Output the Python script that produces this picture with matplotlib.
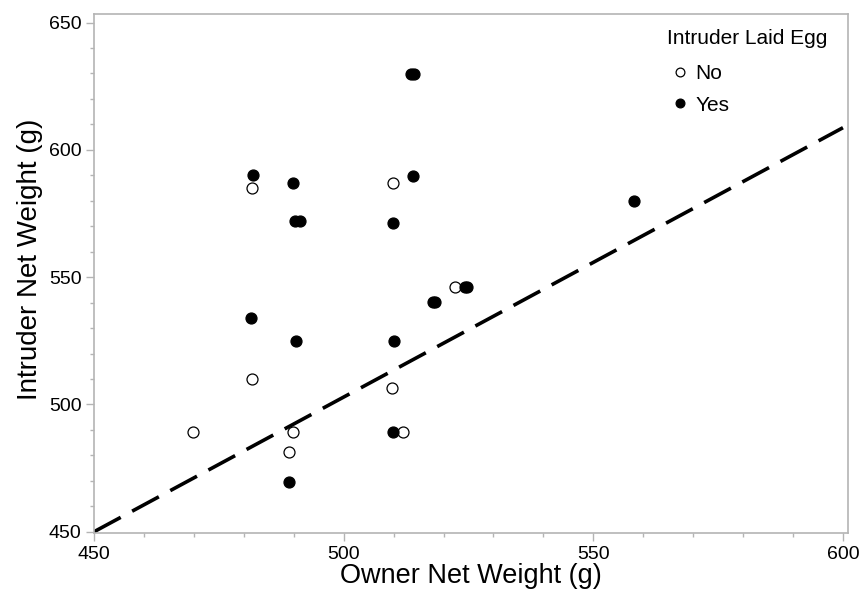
import matplotlib
matplotlib.use("Agg")
from matplotlib import pyplot as plt
from matplotlib.ticker import MultipleLocator

plt.rcParams['font.family'] = ['Liberation Sans', 'DejaVu Sans']

# intruder did not lay an egg
no_owner = [481.6, 509.9, 522.3, 481.6, 509.6, 469.8, 489.9, 489.1, 511.8]
no_intruder = [585.2, 586.9, 546.0, 509.9, 506.6, 489.2, 489.1, 481.2, 489.1]

# intruder laid an egg
yes_owner = [513.4, 514.0, 481.8, 489.9, 513.8, 490.3, 491.2, 509.8, 558.2,
             517.8, 518.3, 524.3, 524.8, 481.4, 490.5, 510.1, 509.8, 489.1]
yes_intruder = [629.6, 629.6, 590.2, 586.9, 589.9, 572.1, 572.1, 571.4, 580.0,
                540.1, 540.4, 546.0, 546.0, 534.0, 525.0, 525.0, 489.1, 469.4]

# reference line
line_x = [450, 600]
line_y = [450, 608.7]

grey = '#b4b4b4'

fig = plt.figure(figsize=(8.6, 5.94), dpi=100)
ax = fig.add_axes([0.1093, 0.1022, 0.8767, 0.874])

ax.plot(line_x, line_y, color='black', lw=2.6, dashes=(8.4, 3.6), zorder=2)

ax.plot(no_owner, no_intruder, 'o', ms=7.9, mfc='white', mec='black', mew=0.9,
        label='No', zorder=3)
ax.plot(yes_owner, yes_intruder, 'o', ms=7.9, mfc='black', mec='black', mew=0.9,
        label='Yes', zorder=4)

ax.set_xlim(450, 601)
ax.set_ylim(449.4, 653.3)

ax.xaxis.set_major_locator(MultipleLocator(50))
ax.xaxis.set_minor_locator(MultipleLocator(10))
ax.yaxis.set_major_locator(MultipleLocator(50))
ax.yaxis.set_minor_locator(MultipleLocator(10))

for s in ax.spines.values():
    s.set_color(grey)
    s.set_linewidth(1.2)

ax.tick_params(which='both', direction='out', color=grey, width=1, labelsize=14)
ax.tick_params(which='major', length=5.5, pad=3.5)
ax.tick_params(which='minor', length=3.2)

ax.set_xlabel('Owner Net Weight (g)', fontsize=19.5, labelpad=0)
ax.set_ylabel('Intruder Net Weight (g)', fontsize=20)
ax.yaxis.set_label_coords(-0.068, 0.528)

leg = ax.legend(title='Intruder Laid Egg', loc='upper left',
                bbox_to_anchor=(0.76, 0.971), frameon=False,
                fontsize=15, title_fontsize=15, handletextpad=0.15,
                handlelength=1.2, borderpad=0, borderaxespad=0,
                labelspacing=0.6, markerscale=0.8)
leg._legend_box.align = 'left'
leg._legend_box.sep = 0.6 * 15 + 2.5

fig.savefig('out.png', dpi=100)
